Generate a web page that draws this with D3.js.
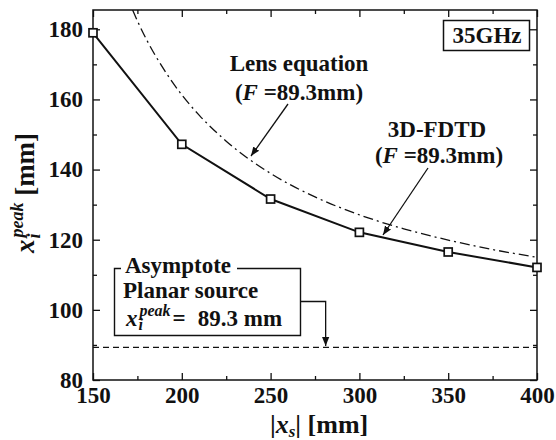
<!DOCTYPE html>
<html>
<head>
<meta charset="utf-8">
<script src="https://cdn.jsdelivr.net/npm/d3@7"></script>
<style>
  body { margin: 0; background: #fff; }
  svg text { font-family: "Liberation Serif", "Times New Roman", serif; font-weight: bold; fill: #111; }
  .axis path { display: none; }
  .axis line { stroke: #111; stroke-width: 1.3; }
  .axis text { font-size: 23px; }
</style>
</head>
<body>
<div id="chart"></div>
<script>
// 3D-FDTD result (open squares)
var fdtdXs = [150, 200, 250, 300, 350, 400];
var fdtdPeak = [179.0, 147.2, 131.6, 122.1, 116.5, 112.1];

// lens equation curve
var lensXs = [172.3, 175, 180, 190, 200, 210, 225, 250, 275, 300, 325, 350, 375, 400];
var lensPeak = [185.5, 182.4, 177.2, 168.5, 161.3, 155.4, 148.1, 138.9, 132.2, 127.1, 123.1, 119.9, 117.2, 115.0];

// planar source asymptote
var asymptoteValue = 89.3;

var xTicks = [150, 200, 250, 300, 350, 400];
var xMinorTicks = [175, 225, 275, 325, 375];
var yTicks = [80, 100, 120, 140, 160, 180];
var yMinorTicks = [90, 110, 130, 150, 170];

var width = 556, height = 440;
var plotLeft = 93, plotRight = 537, plotTop = 10, plotBottom = 380;

var svg = d3.select("#chart").append("svg")
    .attr("width", width)
    .attr("height", height);

var x = d3.scaleLinear().domain([150, 400]).range([plotLeft, plotRight]);
var y = d3.scaleLinear().domain([80, 185.5]).range([plotBottom, plotTop]);

var defs = svg.append("defs");
defs.append("clipPath").attr("id", "plotclip")
    .append("rect")
    .attr("x", plotLeft).attr("y", plotTop)
    .attr("width", plotRight - plotLeft).attr("height", plotBottom - plotTop);

defs.append("marker")
    .attr("id", "arrow")
    .attr("viewBox", "0 0 10 10")
    .attr("refX", 10).attr("refY", 5)
    .attr("markerWidth", 9).attr("markerHeight", 9)
    .attr("markerUnits", "userSpaceOnUse")
    .attr("orient", "auto")
    .append("path")
    .attr("d", "M0,1 L10,5 L0,9 Z")
    .attr("fill", "#111");

// ticks, all pointing inward
svg.append("g").attr("class", "axis")
    .attr("transform", "translate(0," + plotBottom + ")")
    .call(d3.axisBottom(x).tickValues(xTicks).tickSizeInner(-7).tickSizeOuter(0).tickPadding(7).tickFormat(d3.format("d")));
svg.append("g").attr("class", "axis")
    .attr("transform", "translate(0," + plotBottom + ")")
    .call(d3.axisBottom(x).tickValues(xMinorTicks).tickSizeInner(-4).tickSizeOuter(0).tickFormat(""));
svg.append("g").attr("class", "axis")
    .attr("transform", "translate(0," + plotTop + ")")
    .call(d3.axisTop(x).tickValues(xTicks).tickSizeInner(-7).tickSizeOuter(0).tickFormat(""));
svg.append("g").attr("class", "axis")
    .attr("transform", "translate(0," + plotTop + ")")
    .call(d3.axisTop(x).tickValues(xMinorTicks).tickSizeInner(-4).tickSizeOuter(0).tickFormat(""));

svg.append("g").attr("class", "axis")
    .attr("transform", "translate(" + plotLeft + ",0)")
    .call(d3.axisLeft(y).tickValues(yTicks).tickSizeInner(-7).tickSizeOuter(0).tickPadding(10).tickFormat(d3.format("d")));
svg.append("g").attr("class", "axis")
    .attr("transform", "translate(" + plotLeft + ",0)")
    .call(d3.axisLeft(y).tickValues(yMinorTicks).tickSizeInner(-4).tickSizeOuter(0).tickFormat(""));
svg.append("g").attr("class", "axis")
    .attr("transform", "translate(" + plotRight + ",0)")
    .call(d3.axisRight(y).tickValues(yTicks).tickSizeInner(-7).tickSizeOuter(0).tickFormat(""));
svg.append("g").attr("class", "axis")
    .attr("transform", "translate(" + plotRight + ",0)")
    .call(d3.axisRight(y).tickValues(yMinorTicks).tickSizeInner(-4).tickSizeOuter(0).tickFormat(""));

// frame
svg.append("rect")
    .attr("x", plotLeft).attr("y", plotTop)
    .attr("width", plotRight - plotLeft).attr("height", plotBottom - plotTop)
    .attr("fill", "none").attr("stroke", "#111").attr("stroke-width", 1.5);

var plot = svg.append("g").attr("clip-path", "url(#plotclip)");

// asymptote
plot.append("line")
    .attr("x1", x(150)).attr("x2", x(400))
    .attr("y1", y(asymptoteValue)).attr("y2", y(asymptoteValue))
    .attr("stroke", "#111").attr("stroke-width", 1.3)
    .attr("stroke-dasharray", "6,4");

// lens equation
var lensLine = d3.line()
    .x(function(d, i) { return x(lensXs[i]); })
    .y(function(d) { return y(d); })
    .curve(d3.curveMonotoneX);
plot.append("path")
    .attr("d", lensLine(lensPeak))
    .attr("fill", "none").attr("stroke", "#111").attr("stroke-width", 1.3)
    .attr("stroke-dasharray", "10,4,2,4");

// FDTD
var fdtdLine = d3.line()
    .x(function(d, i) { return x(fdtdXs[i]); })
    .y(function(d) { return y(d); });
svg.append("path")
    .attr("d", fdtdLine(fdtdPeak))
    .attr("fill", "none").attr("stroke", "#111").attr("stroke-width", 2);

svg.append("g").selectAll("rect")
    .data(fdtdPeak)
    .enter().append("rect")
    .attr("x", function(d, i) { return x(fdtdXs[i]) - 4; })
    .attr("y", function(d) { return y(d) - 4; })
    .attr("width", 8).attr("height", 8)
    .attr("fill", "#fff").attr("stroke", "#111").attr("stroke-width", 1.7);

// x_i^peak helper: appends tspans to a text element
function xPeak(t, size, supSize, rise, drop) {
    t.append("tspan").attr("font-style", "italic").attr("font-size", size).text("x");
    var sub = t.append("tspan").attr("font-style", "italic").attr("font-size", supSize)
        .attr("dx", 1).attr("dy", drop).text("i");
    var iw = sub.node().getComputedTextLength();
    t.append("tspan").attr("font-style", "italic").attr("font-size", supSize)
        .attr("dx", -iw + 1).attr("dy", -(drop + rise)).text("peak");
    return t;
}

// axis labels
var xl = svg.append("text").attr("x", 270).attr("y", 433).attr("font-size", 26);
xl.append("tspan").text("|");
xl.append("tspan").attr("font-style", "italic").text("x");
xl.append("tspan").attr("font-size", 17).attr("font-style", "italic").attr("dy", 4).text("s");
xl.append("tspan").attr("dy", -4).text("| [mm]");

var yl = svg.append("text")
    .attr("transform", "translate(34,193) rotate(-90)")
    .attr("text-anchor", "middle")
    .attr("font-size", 27);
xPeak(yl, 27, 18, 11, 6);
yl.append("tspan").attr("dy", 11).attr("font-size", 27).text(" [mm]");

// 35GHz box
svg.append("rect")
    .attr("x", 443.5).attr("y", 20.5).attr("width", 86).attr("height", 30)
    .attr("fill", "#fff").attr("stroke", "#111").attr("stroke-width", 1.5);
svg.append("text").attr("x", 487).attr("y", 43).attr("text-anchor", "middle")
    .attr("font-size", 23).text("35GHz");

// Lens equation label
svg.append("text").attr("x", 299).attr("y", 71).attr("text-anchor", "middle")
    .attr("font-size", 23).text("Lens equation");
var lf = svg.append("text").attr("x", 299).attr("y", 100).attr("text-anchor", "middle").attr("font-size", 23);
lf.append("tspan").text("(");
lf.append("tspan").attr("font-style", "italic").text("F");
lf.append("tspan").text(" =89.3mm)");
svg.append("line")
    .attr("x1", 288).attr("y1", 104).attr("x2", 251).attr("y2", 156)
    .attr("stroke", "#111").attr("stroke-width", 1.3).attr("marker-end", "url(#arrow)");

// 3D-FDTD label
svg.append("text").attr("x", 437).attr("y", 137).attr("text-anchor", "middle")
    .attr("font-size", 23).text("3D-FDTD");
var ff = svg.append("text").attr("x", 439).attr("y", 163).attr("text-anchor", "middle").attr("font-size", 23);
ff.append("tspan").text("(");
ff.append("tspan").attr("font-style", "italic").text("F");
ff.append("tspan").text(" =89.3mm)");
svg.append("line")
    .attr("x1", 428).attr("y1", 168).attr("x2", 383).attr("y2", 235)
    .attr("stroke", "#111").attr("stroke-width", 1.3).attr("marker-end", "url(#arrow)");

// asymptote annotation box
svg.append("path")
    .attr("d", "M121,268.5 H114.5 V335.5 H300.5 V268.5 H237")
    .attr("fill", "none").attr("stroke", "#111").attr("stroke-width", 1.4);
svg.append("path")
    .attr("d", "M300.5,301.5 H" + x(281) + " V346")
    .attr("fill", "none").attr("stroke", "#111").attr("stroke-width", 1.3)
    .attr("marker-end", "url(#arrow)");
svg.append("text").attr("x", 125).attr("y", 273).attr("font-size", 23).text("Asymptote");
svg.append("text").attr("x", 123).attr("y", 298).attr("font-size", 23).text("Planar source");
var at = svg.append("text").attr("x", 126).attr("y", 326).attr("font-size", 23);
xPeak(at, 23, 16, 10, 4);
at.append("tspan").attr("dx", 2).attr("dy", 10).attr("font-size", 23).text("=");
at.append("tspan").attr("dx", 12).attr("font-size", 23).text("89.3 mm");
</script>
</body>
</html>
